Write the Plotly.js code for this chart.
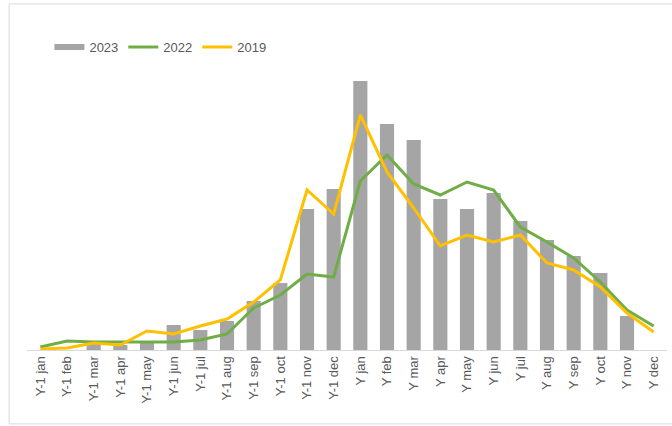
<!DOCTYPE html>
<html>
<head>
<meta charset="utf-8">
<script src="https://cdn.plot.ly/plotly-3.0.1.min.js"></script>
<style>
html,body{margin:0;padding:0;background:#fff;}
#chart{width:672px;height:426px;}
</style>
</head>
<body>
<div id="chart"></div>
<script>
const categories = ["Y-1 jan","Y-1 feb","Y-1 mar","Y-1 apr","Y-1 may","Y-1 jun","Y-1 jul","Y-1 aug","Y-1 sep","Y-1 oct","Y-1 nov","Y-1 dec",
  "Y jan","Y feb","Y mar","Y apr","Y may","Y jun","Y jul","Y aug","Y sep","Y oct","Y nov","Y dec"];
const values2023 = [0,0,7,5,8,25,20,29,49,67,141,161,269,226,210,151,141,157,129,110,94,77,34,0];
const values2022 = [3,9,8,8,8,8,10,16,42,55,76,73,169,195,166,155,168,160,123,108,92,68,40,24];
const values2019 = [1,2,7,5,19,16,24,31,48,70,160,136,235,178,142,104,115,108,115,87,80,63,37,18];

const traces = [
  {type:'bar', name:'2023', x:categories, y:values2023, marker:{color:'#A5A5A5'}, showlegend:false, legendgroup:'2023'},
  {type:'scatter', mode:'lines', name:'2023', x:[null], y:[null], line:{color:'#A5A5A5', width:6}, legendgroup:'2023', hoverinfo:'skip'},
  {type:'scatter', mode:'lines', name:'2022', x:categories, y:values2022, line:{color:'#70AD47', width:3}},
  {type:'scatter', mode:'lines', name:'2019', x:categories, y:values2019, line:{color:'#FFC000', width:3}}
];

const layout = {
  width:672, height:426,
  margin:{l:27, r:5, t:70, b:76},
  paper_bgcolor:'#fff', plot_bgcolor:'#fff',
  font:{family:'"Liberation Sans", Arial, sans-serif', size:13, color:'#595959'},
  bargap:0.47,
  showlegend:true,
  legend:{orientation:'h', x:0.035, xanchor:'left', y:1.082, yanchor:'middle',
    font:{size:13, color:'#595959'}, itemwidth:30,
    traceorder:'normal', bgcolor:'rgba(0,0,0,0)'},
  xaxis:{type:'category', tickangle:-90, showgrid:false, showline:true, linecolor:'#D9D9D9', linewidth:1,
    ticks:'', tickfont:{size:13, color:'#595959'}, zeroline:false},
  yaxis:{range:[0,280], showgrid:false, showticklabels:false, zeroline:false, showline:false, ticks:''},
  shapes:[
    {type:'line', xref:'paper', yref:'paper', x0:-0.028, x1:-0.028, y0:-0.264, y1:1.236, line:{color:'#D9D9D9', width:1}},
    {type:'line', xref:'paper', yref:'paper', x0:-0.028, x1:1.01, y0:1.236, y1:1.236, line:{color:'#D9D9D9', width:1}},
    {type:'line', xref:'paper', yref:'paper', x0:-0.028, x1:1.01, y0:-0.264, y1:-0.264, line:{color:'#D9D9D9', width:1}}
  ]
};

Plotly.newPlot('chart', traces, layout, {displayModeBar:false, staticPlot:true});
</script>
</body>
</html>
